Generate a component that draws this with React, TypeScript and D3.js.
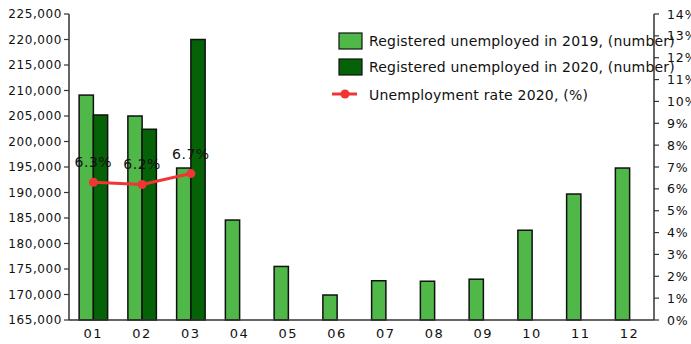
import React from "react";
import * as d3 from "d3";

const months = ["01", "02", "03", "04", "05", "06", "07", "08", "09", "10", "11", "12"];
const unemployed2019 = [209100, 205000, 194800, 184600, 175500, 169900, 172700, 172600, 173000, 182600, 189700, 194800];
const unemployed2020: (number | null)[] = [205200, 202400, 220000, null, null, null, null, null, null, null, null, null];
const rate2020 = [6.3, 6.2, 6.7];
const leftTicks = d3.range(165000, 225001, 5000);
const rightTicks = d3.range(0, 15, 1);

const W = 691;
const H = 344;
const L = 69;
const R = 654;
const T = 14;
const B = 320;

const font = "'DejaVu Sans', sans-serif";

export default function App() {
  const x = d3.scaleBand<string>().domain(months).range([L, R]).padding(0);
  const inner = d3.scaleBand<string>().domain(["2019", "2020"]).range([0, x.bandwidth()]).paddingInner(0).paddingOuter(0.71);
  const yL = d3.scaleLinear().domain([165000, 225000]).range([B, T]);
  const yR = d3.scaleLinear().domain([0, 14]).range([B, T]);
  const fmt = d3.format(",");
  const cx = (m: string) => (x(m) as number) + x.bandwidth() / 2;
  const lineGen = d3.line<number>().x((_, i) => cx(months[i])).y((d) => yR(d));

  const light = "#4fb848";
  const dark = "#056207";
  const stroke = "#111";

  return (
    <svg width={W} height={H} style={{ position: "absolute", left: 0, top: 0, background: "#fff" }} fontFamily={font}>
      {/* bars */}
      {months.map((m, i) => (
        <g key={m}>
          <rect x={(x(m) as number) + (inner("2019") as number)} y={yL(unemployed2019[i])} width={inner.bandwidth()} height={B - yL(unemployed2019[i])} fill={light} stroke={stroke} strokeWidth={1.5} />
          {unemployed2020[i] != null && (
            <rect x={(x(m) as number) + (inner("2020") as number)} y={yL(unemployed2020[i] as number)} width={inner.bandwidth()} height={B - yL(unemployed2020[i] as number)} fill={dark} stroke={stroke} strokeWidth={1.5} />
          )}
        </g>
      ))}

      {/* axes */}
      <line x1={L} x2={L} y1={T} y2={B} stroke="#333" strokeWidth={1.5} />
      <line x1={R} x2={R} y1={T} y2={B} stroke="#333" strokeWidth={1.5} />
      <line x1={L} x2={R} y1={B} y2={B} stroke="#333" strokeWidth={1.5} />
      {leftTicks.map((t) => (
        <g key={t}>
          <line x1={L - 5} x2={L} y1={yL(t)} y2={yL(t)} stroke="#333" strokeWidth={1.2} />
          <text x={L - 7} y={yL(t)} dy="0.36em" textAnchor="end" fontSize={12} letterSpacing={0.6} fill="#111">{fmt(t)}</text>
        </g>
      ))}
      {rightTicks.map((t) => (
        <g key={t}>
          <line x1={R} x2={R + 5} y1={yR(t)} y2={yR(t)} stroke="#333" strokeWidth={1.2} />
          <text x={R + 13} y={yR(t)} dy="0.36em" textAnchor="start" fontSize={12.5} letterSpacing={0.9} fill="#111">{t + "%"}</text>
        </g>
      ))}
      {months.map((m) => (
        <text key={m} x={cx(m)} y={338} textAnchor="middle" fontSize={13} letterSpacing={1.5} fill="#111">{m}</text>
      ))}

      {/* line */}
      <path d={lineGen(rate2020) as string} fill="none" stroke="#f03535" strokeWidth={3} />
      {rate2020.map((r, i) => (
        <g key={i}>
          <circle cx={cx(months[i])} cy={yR(r)} r={4.5} fill="#f03535" />
          <text x={cx(months[i])} y={yR(r) - 15} textAnchor="middle" fontSize={14} fill="#111" letterSpacing={0.5}>{r.toFixed(1) + "%"}</text>
        </g>
      ))}

      {/* legend */}
      <rect x={339} y={33} width={23} height={16} fill={light} stroke={stroke} strokeWidth={1.2} />
      <text x={369} y={41} dy="0.36em" fontSize={14} fill="#111" letterSpacing={0.2}>Registered unemployed in 2019, (number)</text>
      <rect x={339} y={59} width={23} height={16} fill={dark} stroke={stroke} strokeWidth={1.2} />
      <text x={369} y={67} dy="0.36em" fontSize={14} fill="#111" letterSpacing={0.2}>Registered unemployed in 2020, (number)</text>
      <line x1={332} x2={357} y1={94} y2={94} stroke="#f03535" strokeWidth={3} />
      <circle cx={345} cy={94} r={4.5} fill="#f03535" />
      <text x={369} y={95} dy="0.36em" fontSize={14} fill="#111" letterSpacing={0.2}>Unemployment rate 2020, (%)</text>
    </svg>
  );
}
